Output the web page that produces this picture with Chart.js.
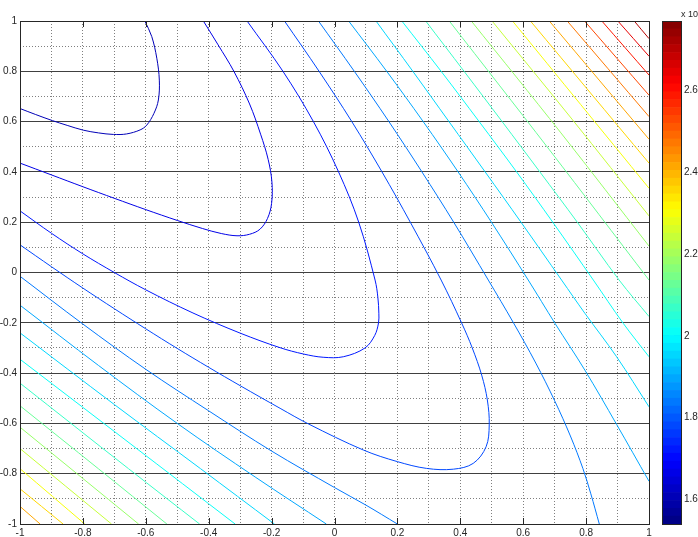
<!DOCTYPE html>
<html><head><meta charset="utf-8">
<script src="https://cdn.jsdelivr.net/npm/chart.js@4.4.0/dist/chart.umd.min.js"></script>
<style>
html,body{margin:0;padding:0;background:#fff;}
#wrap{position:relative;width:698px;height:537px;overflow:hidden;background:#fff;}
canvas{position:absolute;left:0;top:0;}
</style></head><body>
<div id="wrap"><canvas id="main" width="698" height="537"></canvas><canvas id="cbar" width="698" height="537"></canvas></div>
<script>
// ---- data ----
const levels = [1.600,1.659,1.717,1.776,1.834,1.893,1.951,2.010,2.068,2.127,2.185,2.244,2.302,2.361,2.419,2.478,2.536,2.595,2.653,2.712];
const colorRange = [1.54, 2.77];
const xTicks = [-1,-0.8,-0.6,-0.4,-0.2,0,0.2,0.4,0.6,0.8,1];
const yTicks = [-1,-0.8,-0.6,-0.4,-0.2,0,0.2,0.4,0.6,0.8,1];
const cbarTicks = [1.6,1.8,2,2.2,2.4,2.6];

const c01 = [[[-1,0.652],[-0.95,0.628],[-0.897,0.604],[-0.85,0.585],[-0.799,0.566],[-0.75,0.555],[-0.703,0.549],[-0.661,0.551],[-0.618,0.567],[-0.597,0.586],[-0.574,0.633],[-0.56,0.686],[-0.557,0.765],[-0.565,0.852],[-0.581,0.938],[-0.603,1.0]]];
const c02 = [[[-1,0.435],[-0.9,0.388],[-0.8,0.341],[-0.7,0.295],[-0.6,0.25],[-0.5,0.207],[-0.42,0.175],[-0.36,0.155],[-0.31,0.146],[-0.27,0.152],[-0.237,0.172],[-0.213,0.215],[-0.2,0.275],[-0.199,0.36],[-0.211,0.45],[-0.235,0.55],[-0.27,0.67],[-0.32,0.8],[-0.37,0.905],[-0.417,1.0]]];
const c03 = [[[-1,0.245],[-0.9,0.156],[-0.8,0.074],[-0.7,0.0],[-0.6,-0.069],[-0.45,-0.161],[-0.3,-0.241],[-0.173,-0.299],[-0.099,-0.324],[-0.036,-0.337],[0.028,-0.335],[0.097,-0.3],[0.128,-0.25],[0.14,-0.2],[0.141,-0.162],[0.138,-0.1],[0.129,-0.03],[0.077,0.2],[0.013,0.4],[-0.067,0.6],[-0.164,0.8],[-0.278,1.0]]];
const c04 = [[[-1,0.11],[-0.9,0.023],[-0.8,-0.062],[-0.7,-0.144],[-0.6,-0.224],[-0.5,-0.302],[-0.4,-0.377],[-0.3,-0.45],[-0.173,-0.54],[-0.083,-0.602],[0.092,-0.706],[0.2,-0.752],[0.293,-0.779],[0.378,-0.782],[0.441,-0.759],[0.482,-0.693],[0.492,-0.606],[0.486,-0.507],[0.468,-0.408],[0.438,-0.3],[0.404,-0.2],[0.339,-0.03],[0.241,0.2],[0.151,0.4],[0.055,0.6],[-0.049,0.8],[-0.159,1.0]]];
const c05 = [[[-1,-0.015],[-0.8,-0.205],[-0.6,-0.385],[-0.4,-0.55],[-0.2,-0.71],[0,-0.855],[0.1,-0.925],[0.2,-1.0]],
             [[-0.051,1.0],[0.063,0.8],[0.173,0.6],[0.278,0.4],[0.379,0.2],[0.489,-0.03],[0.569,-0.2],[0.64,-0.36],[0.7,-0.51],[0.75,-0.65],[0.79,-0.78],[0.815,-0.88],[0.842,-1.0]]];
const c06 = [[[-1,-0.13],[-0.75,-0.37],[-0.5,-0.6],[-0.25,-0.815],[-0.026,-1.0]],
             [[0.045,1.0],[0.166,0.8],[0.282,0.6],[0.393,0.4],[0.499,0.2],[0.616,-0.03],[0.701,-0.202],[0.796,-0.388],[0.897,-0.604],[1.0,-0.83]]];
const c07 = [[[-1,-0.24],[-0.7,-0.525],[-0.426,-0.78],[-0.191,-1.0]],
             [[0.132,1.0],[0.249,0.8],[0.364,0.6],[0.479,0.4],[0.593,0.2],[0.722,-0.03],[0.796,-0.162],[0.897,-0.335],[1.0,-0.534]]];
const c08 = [[[-1,-0.345],[-0.65,-0.68],[-0.316,-1.0]],
             [[0.214,1.0],[0.339,0.8],[0.46,0.6],[0.579,0.4],[0.694,0.2],[0.823,-0.03],[0.918,-0.202],[1.0,-0.335]]];
const c09 = [[[-1,-0.44],[-0.655,-0.78],[-0.429,-1.0]],
             [[0.29,1.0],[0.412,0.8],[0.533,0.6],[0.653,0.4],[0.772,0.2],[0.905,-0.03],[1.0,-0.175]]];
const c10 = [[[-1,-0.53],[-0.751,-0.78],[-0.533,-1.0]],[[0.365,1.0],[0.682,0.49],[1.0,-0.03]]];
const c11 = [[[-1,-0.615],[-0.623,-1.0]],[[0.435,1.0],[0.72,0.555],[1.0,0.105]]];
const c12 = [[[-1,-0.7],[-0.709,-1.0]],[[0.501,1.0],[0.755,0.61],[1.0,0.225]]];
const c13 = [[[-1,-0.78],[-0.794,-1.0]],[[0.566,1.0],[1.0,0.335]]];
const c14 = [[[-1,-0.86],[-0.863,-1.0]],[[0.623,1.0],[1.0,0.435]]];
const c15 = [[[-1,-0.93],[-0.936,-1.0]],[[0.683,1.0],[1.0,0.53]]];
const c16 = [[[0.74,1.0],[1.0,0.62]]];
const c17 = [[[0.795,1.0],[1.0,0.705]]];
const c18 = [[[0.85,1.0],[1.0,0.785]]];
const c19 = [[[0.901,1.0],[1.0,0.86]]];
const c20 = [[[0.953,1.0],[1.0,0.93]]];
const contours = [c01,c02,c03,c04,c05,c06,c07,c08,c09,c10,c11,c12,c13,c14,c15,c16,c17,c18,c19,c20];

// ---- colormap (jet, 64 steps) ----
function jet(t) {
  const i = Math.min(63, Math.max(0, Math.floor(t * 64)));
  const u = (i + 0.5) / 64;
  const c = v => Math.round(255 * Math.min(1, Math.max(0, 1.5 - Math.abs(4 * u - v))));
  return 'rgb(' + c(3) + ',' + c(2) + ',' + c(1) + ')';
}
const norm = v => (v - colorRange[0]) / (colorRange[1] - colorRange[0]);

const FONT = {family: '"Liberation Sans", Arial, Helvetica, sans-serif', size: 10};
const TXT = '#262626';

const datasets = [];
contours.forEach((arms, k) => {
  arms.forEach(arm => {
    datasets.push({
      data: arm.map(p => ({x: p[0], y: p[1]})),
      borderColor: jet(norm(levels[k])),
      borderWidth: 1,
      pointRadius: 0,
      pointHitRadius: 0,
      showLine: true,
      fill: false,
      tension: 0.35
    });
  });
});

const mainDecor = {
  id: 'mainDecor',
  afterDraw(chart) {
    const {ctx, chartArea: a, scales: {x}} = chart;
    ctx.save();
    ctx.strokeStyle = TXT;
    ctx.lineWidth = 1;
    ctx.beginPath();
    xTicks.forEach(v => {
      const px = Math.round(x.getPixelForValue(v)) + 0.5;
      ctx.moveTo(px, Math.round(a.bottom)); ctx.lineTo(px, Math.round(a.bottom) - 6);
      ctx.moveTo(px, Math.round(a.top)); ctx.lineTo(px, Math.round(a.top) + 6);
    });
    ctx.stroke();
    ctx.strokeRect(Math.round(a.left) + 0.5, Math.round(a.top) + 0.5,
                   Math.round(a.right) - Math.round(a.left), Math.round(a.bottom) - Math.round(a.top));
    ctx.restore();
  }
};

const isEdge = v => Math.abs(v) > 0.999;
const isMajor = v => Math.abs(Math.round(v * 10)) % 2 === 0;

new Chart(document.getElementById('main'), {
  type: 'scatter',
  data: {datasets},
  options: {
    responsive: false, animation: false, events: [], devicePixelRatio: 1,
    layout: {padding: {left: 0, right: 49, top: 21, bottom: 0}},
    plugins: {legend: {display: false}, tooltip: {enabled: false}},
    scales: {
      x: {
        type: 'linear', position: 'bottom', min: -1, max: 1,
        afterBuildTicks: s => { s.ticks = xTicks.map(v => ({value: v})); },
        afterFit: s => { s.height = 13; },
        ticks: {font: FONT, color: TXT, padding: 3, autoSkip: false, maxRotation: 0, callback: v => String(v)},
        grid: {display: false, drawTicks: false},
        border: {display: false}
      },
      x2: {
        type: 'linear', position: 'top', min: -1, max: 1,
        afterFit: s => { s.height = 0; },
        ticks: {display: false, stepSize: 0.1},
        grid: {drawTicks: false, lineWidth: 1,
               color: c => (c.tick && isEdge(c.tick.value)) ? 'rgba(0,0,0,0)' : '#7f7f7f'},
        border: {display: false, dash: [1, 2]}
      },
      y: {
        type: 'linear', position: 'left', min: -1, max: 1,
        afterBuildTicks: s => { s.ticks = yTicks.map(v => ({value: v})); },
        afterFit: s => { s.width = 20; },
        ticks: {font: FONT, color: TXT, padding: 3, autoSkip: false, callback: v => String(v)},
        grid: {drawTicks: false, lineWidth: 1, color: '#404040'},
        border: {display: false}
      },
      y2: {
        type: 'linear', position: 'right', min: -1, max: 1,
        afterFit: s => { s.width = 0; },
        ticks: {display: false, stepSize: 0.1},
        grid: {drawTicks: false, lineWidth: 1,
               color: c => (c.tick && (isEdge(c.tick.value) || isMajor(c.tick.value))) ? 'rgba(0,0,0,0)' : '#7f7f7f'},
        border: {display: false, dash: [1, 2]}
      }
    }
  },
  plugins: [mainDecor]
});

// ---- colorbar ----
const bandCount = 64;
const bandSets = [];
for (let i = 0; i < bandCount; i++) {
  const lo = colorRange[0] + (colorRange[1] - colorRange[0]) * i / bandCount;
  const hi = colorRange[0] + (colorRange[1] - colorRange[0]) * (i + 1) / bandCount;
  bandSets.push({
    data: [[lo, hi]],
    backgroundColor: jet((i + 0.5) / bandCount),
    borderWidth: 0,
    barPercentage: 1, categoryPercentage: 1, grouped: false
  });
}

const cbarDecor = {
  id: 'cbarDecor',
  afterDraw(chart) {
    const {ctx, chartArea: a} = chart;
    ctx.save();
    ctx.strokeStyle = TXT;
    ctx.lineWidth = 1;
    ctx.strokeRect(Math.round(a.left) + 0.5, Math.round(a.top) + 0.5,
                   Math.round(a.right) - Math.round(a.left), Math.round(a.bottom) - Math.round(a.top));
    ctx.fillStyle = TXT;
    ctx.font = '9px "Liberation Sans", Arial, sans-serif';
    ctx.textAlign = 'left';
    ctx.textBaseline = 'alphabetic';
    ctx.fillText('x 10', Math.round(a.right), Math.round(a.top) - 4);
    ctx.restore();
  }
};

new Chart(document.getElementById('cbar'), {
  type: 'bar',
  data: {labels: [''], datasets: bandSets},
  options: {
    responsive: false, animation: false, events: [], devicePixelRatio: 1,
    layout: {padding: {left: 662, right: 0, top: 21, bottom: 13}},
    plugins: {legend: {display: false}, tooltip: {enabled: false}},
    scales: {
      x: {display: false, stacked: true},
      y: {
        position: 'right', min: colorRange[0], max: colorRange[1], z: 1,
        afterBuildTicks: s => { s.ticks = cbarTicks.map(v => ({value: v})); },
        afterFit: s => { s.width = 17; },
        ticks: {font: FONT, color: TXT, padding: 3, callback: v => String(v)},
        grid: {drawTicks: false, lineWidth: 1, color: TXT},
        border: {display: false, dash: [7, 5]}
      }
    }
  },
  plugins: [cbarDecor]
});
</script>
</body></html>
